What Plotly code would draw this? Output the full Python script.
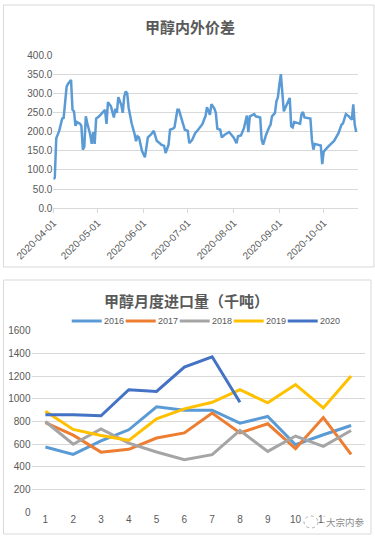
import plotly.graph_objects as go

# ---------------- data: 甲醇内外价差 ----------------
spread_dates = [
    "2020-04-01", "2020-04-02", "2020-04-03", "2020-04-05", "2020-04-07", "2020-04-08",
    "2020-04-10", "2020-04-11", "2020-04-13", "2020-04-14", "2020-04-15", "2020-04-16",
    "2020-04-17", "2020-04-19", "2020-04-20", "2020-04-21", "2020-04-22", "2020-04-23",
    "2020-04-24", "2020-04-26", "2020-04-27", "2020-04-28", "2020-04-29", "2020-04-30",
    "2020-05-02", "2020-05-04", "2020-05-06", "2020-05-07", "2020-05-08", "2020-05-10",
    "2020-05-12", "2020-05-13", "2020-05-14", "2020-05-15", "2020-05-17", "2020-05-18",
    "2020-05-19", "2020-05-20", "2020-05-21", "2020-05-22", "2020-05-24", "2020-05-26",
    "2020-05-27", "2020-05-28", "2020-05-29", "2020-05-31", "2020-06-02", "2020-06-04",
    "2020-06-06", "2020-06-08", "2020-06-10", "2020-06-12", "2020-06-13", "2020-06-15",
    "2020-06-16", "2020-06-18", "2020-06-19", "2020-06-21", "2020-06-22", "2020-06-24",
    "2020-06-25", "2020-06-27", "2020-06-29", "2020-07-01", "2020-07-02", "2020-07-04",
    "2020-07-06", "2020-07-08", "2020-07-10", "2020-07-11", "2020-07-12", "2020-07-13",
    "2020-07-14", "2020-07-16", "2020-07-17", "2020-07-19", "2020-07-20", "2020-07-21",
    "2020-07-23", "2020-07-24", "2020-07-26", "2020-07-29", "2020-08-01", "2020-08-03",
    "2020-08-04", "2020-08-06", "2020-08-08", "2020-08-10", "2020-08-11", "2020-08-12",
    "2020-08-15", "2020-08-16", "2020-08-19", "2020-08-20", "2020-08-21", "2020-08-23",
    "2020-08-25", "2020-08-26", "2020-08-27", "2020-08-29", "2020-08-30", "2020-08-31",
    "2020-09-01", "2020-09-02", "2020-09-03", "2020-09-04", "2020-09-06", "2020-09-08",
    "2020-09-09", "2020-09-10", "2020-09-11", "2020-09-13", "2020-09-15", "2020-09-16",
    "2020-09-17", "2020-09-18", "2020-09-20", "2020-09-22", "2020-09-23", "2020-09-24",
    "2020-09-25", "2020-09-27", "2020-09-29", "2020-09-30", "2020-10-01", "2020-10-04",
    "2020-10-08", "2020-10-11", "2020-10-13", "2020-10-14", "2020-10-16", "2020-10-18",
    "2020-10-20", "2020-10-21", "2020-10-22", "2020-10-23",
]
spread_values = [
    76, 80, 183, 202, 234, 236,
    317, 325, 335, 257, 253, 215,
    225, 221, 215, 153, 161, 240,
    222, 192, 168, 199, 168, 234,
    240, 249, 257, 220, 277, 266,
    237, 260, 249, 290, 270, 249,
    292, 305, 300, 262, 222, 194,
    175, 188, 185, 150, 133, 185,
    192, 202, 176, 170, 166, 163,
    144, 166, 205, 208, 211, 257,
    257, 231, 205, 202, 170, 179,
    196, 205, 214, 220, 231, 240,
    264, 244, 272, 260, 249, 208,
    205, 185, 192, 199, 185, 170,
    188, 190, 209, 242, 199, 240,
    246, 240, 237, 179, 166, 192,
    211, 218, 240, 249, 279, 290,
    323, 350, 301, 253, 271, 288,
    214, 211, 225, 222, 221, 246,
    251, 237, 236, 234, 179, 153,
    168, 166, 164, 115, 148, 161,
    176, 196, 218, 221, 246, 240,
    231, 271, 218, 199,
]
spread_tickvals = ["2020-04-01", "2020-05-01", "2020-06-01", "2020-07-01",
                   "2020-08-01", "2020-09-01", "2020-10-01"]
spread_ticktext = ["2020-04-01", "2020-05-01", "2020-06-01", "2020-07-01",
                   "2020-08-01", "2020-09-01", "2020-10-01"]

# ---------------- data: 甲醇月度进口量（千吨） ----------------
months = [1, 2, 3, 4, 5, 6, 7, 8, 9, 10, 11, 12]
imp_2016 = [575, 510, 630, 727, 930, 900, 900, 785, 844, 595, 683, 765]
imp_2017 = [790, 680, 530, 555, 654, 700, 875, 700, 780, 560, 835, 510]
imp_2018 = [800, 600, 735, 610, 531, 464, 508, 721, 537, 672, 581, 721]
imp_2019 = [890, 730, 677, 634, 823, 911, 969, 1080, 965, 1125, 920, 1200]
imp_2020 = [860, 860, 850, 1080, 1065, 1280, 1370, 970]
series_names = ["2016", "2017", "2018", "2019", "2020"]
series_colors = ["#5B9BD5", "#ED7D31", "#A5A5A5", "#FFC000", "#4472C4"]

W, H = 375, 539
FONT = "Noto Sans CJK SC, Liberation Sans, sans-serif"
NUMFONT = "Liberation Sans, Noto Sans CJK SC, sans-serif"
GRID = "#D9D9D9"
TXT = "#595959"


def px_x(p):
    return p / W


def px_y(p):
    return 1 - p / H


fig = go.Figure()

fig.add_trace(go.Scatter(
    x=spread_dates, y=spread_values, mode="lines",
    line=dict(color="#5B9BD5", width=2.5),
    xaxis="x", yaxis="y", showlegend=False,
))

series_vals = [imp_2016, imp_2017, imp_2018, imp_2019, imp_2020]
for name, vals, col in zip(series_names, series_vals, series_colors):
    fig.add_trace(go.Scatter(
        x=months[:len(vals)], y=vals, mode="lines", name=name,
        line=dict(color=col, width=3),
        xaxis="x2", yaxis="y2", showlegend=False,
    ))

shapes = [
    dict(type="rect", xref="paper", yref="paper",
         x0=px_x(3.5), x1=px_x(374), y0=px_y(267), y1=px_y(5),
         line=dict(color=GRID, width=1)),
    dict(type="rect", xref="paper", yref="paper",
         x0=px_x(3.5), x1=px_x(371), y0=px_y(534), y1=px_y(280),
         line=dict(color=GRID, width=1)),
]
annotations = [
    dict(text="<b>甲醇内外价差</b>", xref="paper", yref="paper",
         x=px_x(190), y=px_y(27), xanchor="center", yanchor="middle",
         showarrow=False, font=dict(size=15, color=TXT, family=FONT)),
    dict(text="<b>甲醇月度进口量（千吨）</b>", xref="paper", yref="paper",
         x=px_x(186), y=px_y(300), xanchor="center", yanchor="middle",
         showarrow=False, font=dict(size=15, color=TXT, family=FONT)),
]

# legend (Excel-style: long line keys, tight spacing)
LEG_X0, LEG_STEP, LEG_Y = 71.7, 54.0, 321.0
for i, (name, col) in enumerate(zip(series_names, series_colors)):
    x0 = LEG_X0 + LEG_STEP * i
    shapes.append(dict(type="line", xref="paper", yref="paper", layer="below",
                       x0=px_x(x0), x1=px_x(x0 + 30), y0=px_y(LEG_Y), y1=px_y(LEG_Y),
                       line=dict(color=col, width=3)))
    annotations.append(dict(text=name, xref="paper", yref="paper",
                            x=px_x(x0 + 31.5), y=px_y(LEG_Y), xanchor="left", yanchor="middle",
                            showarrow=False, borderpad=0,
                            font=dict(size=9, color=TXT, family=NUMFONT)))

# watermark
shapes.append(dict(type="circle", xref="paper", yref="paper",
                   x0=px_x(304), x1=px_x(318), y0=px_y(528), y1=px_y(516),
                   fillcolor="white", line=dict(color="#b0b0b0", width=1, dash="dot")))
annotations.append(dict(text="大宗内参", xref="paper", yref="paper",
                        x=px_x(345.5), y=px_y(522), xanchor="center", yanchor="middle",
                        showarrow=False, bgcolor="white", borderpad=1,
                        font=dict(size=9.5, color="#8c8c8c", family=FONT)))

fig.update_layout(
    template="none",
    width=W, height=H,
    margin=dict(l=0, r=0, t=0, b=0, autoexpand=False),
    paper_bgcolor="white", plot_bgcolor="white",
    font=dict(family=NUMFONT, size=10, color=TXT),
    showlegend=False,
    xaxis=dict(
        domain=[px_x(53.3), px_x(357.7)], automargin=False,
        type="date", range=["2020-04-01", "2020-10-24"],
        tickvals=spread_tickvals, ticktext=spread_ticktext,
        tickangle=-45, ticks="outside", ticklen=4, tickcolor=GRID,
        showline=True, linecolor=GRID, linewidth=1,
        showgrid=False, zeroline=False,
        tickfont=dict(size=10, color=TXT),
        anchor="y",
    ),
    yaxis=dict(
        domain=[px_y(208.3), px_y(55)], automargin=False,
        range=[0, 400], dtick=50, tickformat=".1f",
        showgrid=True, gridcolor=GRID, gridwidth=1,
        zeroline=False, showline=False, ticks="",
        tickfont=dict(size=10, color=TXT),
        anchor="x",
    ),
    xaxis2=dict(
        domain=[px_x(31.5), px_x(365)], automargin=False,
        range=[0.5, 12.5], tickvals=months,
        showgrid=False, zeroline=False, showline=False, ticks="",
        tickfont=dict(size=10, color=TXT),
        anchor="y2",
    ),
    yaxis2=dict(
        domain=[px_y(512.3), px_y(330.7)], automargin=False,
        range=[0, 1600], dtick=200,
        showgrid=True, gridcolor=GRID, gridwidth=1,
        zeroline=False, showline=False, ticks="",
        tickfont=dict(size=10, color=TXT),
        anchor="x2",
    ),
    shapes=shapes,
    annotations=annotations,
)

fig.write_html("out.html", config={"displayModeBar": False},
               post_script="document.body.style.margin='0';")
